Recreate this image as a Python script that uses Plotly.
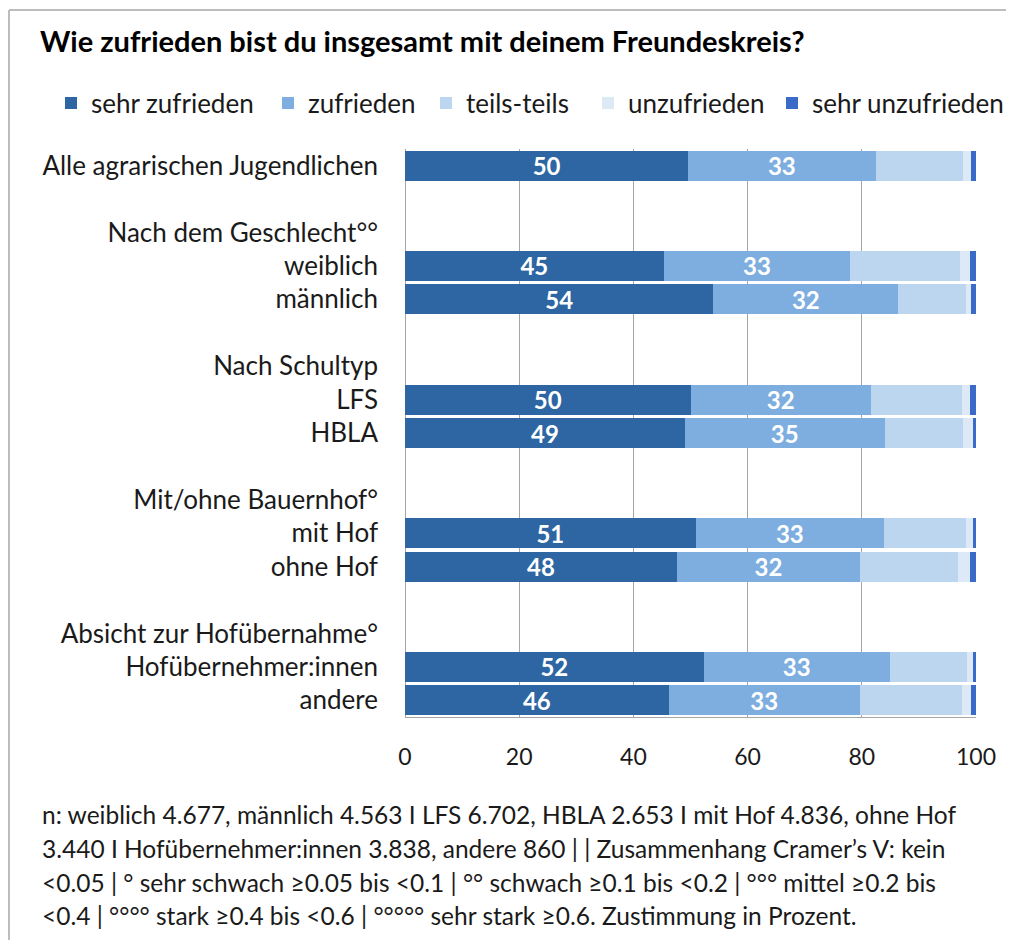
import plotly.graph_objects as go

# ---------------- data ----------------
row_labels = [
    "Alle agrarischen Jugendlichen", "",
    "Nach dem Geschlecht°°", "weiblich", "männlich", "",
    "Nach Schultyp", "LFS", "HBLA", "",
    "Mit/ohne Bauernhof°", "mit Hof", "ohne Hof", "",
    "Absicht zur Hofübernahme°", "Hofübernehmer:innen", "andere",
]
series_names = ["sehr zufrieden", "zufrieden", "teils-teils", "unzufrieden", "sehr unzufrieden"]

sehr_zufrieden   = [49.6, None, None, 45.3, 54.0, None, None, 50.0, 49.0, None, None, 50.9, 47.6, None, None, 52.3, 46.2]
zufrieden        = [32.8, None, None, 32.7, 32.4, None, None, 31.6, 35.0, None, None, 33.0, 32.1, None, None, 32.6, 33.4]
teils_teils      = [15.3, None, None, 19.2, 11.9, None, None, 16.0, 13.8, None, None, 14.3, 17.1, None, None, 13.6, 18.0]
unzufrieden      = [1.4,  None, None, 1.8,  0.9,  None, None, 1.4,  1.6,  None, None, 1.3,  2.1,  None, None, 1.0,  1.5]
sehr_unzufrieden = [0.9,  None, None, 1.0,  0.8,  None, None, 1.0,  0.6,  None, None, 0.5,  1.1,  None, None, 0.5,  0.9]

x_ticks = [0, 20, 40, 60, 80, 100]

footnote_lines = [
    "n: weiblich 4.677, männlich 4.563 I LFS 6.702, HBLA 2.653 I mit Hof 4.836, ohne Hof",
    "3.440 I Hofübernehmer:innen 3.838, andere 860 | | Zusammenhang Cramer’s V: kein",
    "<0.05 | ° sehr schwach ≥0.05 bis <0.1 | °° schwach ≥0.1 bis <0.2 | °°° mittel ≥0.2 bis",
    "<0.4 | °°°° stark ≥0.4 bis <0.6 | °°°°° sehr stark ≥0.6. Zustimmung in Prozent.",
]
title_text = "Wie zufrieden bist du insgesamt mit deinem Freundeskreis?"

# ---------------- styling ----------------
colors = ["#2D66A2", "#7EAEDF", "#BDD6EF", "#DDE9F6", "#3A6BC8"]
FONT = "Lato"
OFF = 8                      # default page body margin
SW, SH = 1015, 948           # screen size
W, H = SW - 2 * OFF, SH - 2 * OFF    # figure size (avoid page overflow)
# plot area in screen pixels
PX0, PX1, PY0, PY1 = 405, 976, 149, 717
L, R, T, B = PX0 - OFF, W - (PX1 - OFF), PY0 - OFF, H - (PY1 - OFF)
PW, PH = PX1 - PX0, PY1 - PY0


def px(xs):
    return (xs - PX0) / PW


def py(ys):
    return (PY1 - ys) / PH


def cx(xs):
    return (xs - OFF) / W


def cy(ys):
    return 1 - (ys - OFF) / H


rows = list(range(len(row_labels)))
all_series = [sehr_zufrieden, zufrieden, teils_teils, unzufrieden, sehr_unzufrieden]
legend_ids = ["legend", "legend2", "legend3", "legend4", "legend5"]
legend_square_x = [67, 284, 442, 604, 788]

fig = go.Figure()
for i, (name, vals) in enumerate(zip(series_names, all_series)):
    show_text = i < 2
    fig.add_trace(go.Bar(
        y=rows, x=vals, name=name, orientation="h",
        marker=dict(color=colors[i], line=dict(width=0)),
        width=0.9,
        texttemplate="%{x:.0f}" if show_text else None,
        textposition="inside" if show_text else "none",
        insidetextanchor="middle", textangle=0, constraintext="none",
        textfont=dict(family=FONT, size=24, color="white", weight="bold"),
        hoverinfo="skip",
        legend=legend_ids[i],
    ))

layout_legends = {}
for i, lid in enumerate(legend_ids):
    layout_legends[lid] = dict(
        orientation="h", xref="container", yref="container",
        x=cx(legend_square_x[i] - 16), xanchor="left",
        y=cy(103), yanchor="middle",
        font=dict(family=FONT, size=26, color="#1a1a1a"),
        bgcolor="rgba(0,0,0,0)", borderwidth=0,
    )

fig.update_layout(
    barmode="stack",
    width=W, height=H,
    margin=dict(l=L, r=R, t=T, b=B, autoexpand=False),
    paper_bgcolor="white", plot_bgcolor="white",
    font=dict(family=FONT, color="#1a1a1a"),
    title=dict(text="<b>" + title_text + "</b>", xref="container", yref="container",
               x=cx(40), xanchor="left", y=cy(42), yanchor="middle",
               font=dict(family=FONT, size=29, color="#000000")),
    showlegend=True,
    **layout_legends,
)
fig.update_xaxes(range=[0, 100], tickvals=x_ticks, showgrid=True, gridcolor="#A6A6A6", gridwidth=1,
                 zeroline=True, zerolinecolor="#A6A6A6", zerolinewidth=1,
                 showline=True, linecolor="#A6A6A6", linewidth=1, ticks="",
                 ticklabelstandoff=19,
                 tickfont=dict(family=FONT, size=23, color="#1a1a1a"))
fig.update_yaxes(range=[16.5, -0.5], tickvals=rows, ticktext=row_labels, showgrid=False,
                 zeroline=False, showline=False, ticks="", ticklabelstandoff=26,
                 tickfont=dict(family=FONT, size=26, color="#1a1a1a"))

# footnote
for k, line in enumerate(footnote_lines):
    fig.add_annotation(text=line.replace("<", "&lt;"), xref="paper", yref="paper",
                       x=px(40), y=py(815 + k * 33.6), xanchor="left", yanchor="middle",
                       showarrow=False, align="left",
                       font=dict(family=FONT, size=24.5, color="#1a1a1a"))

# frame (top and left edges visible)
fig.add_shape(type="line", xref="paper", yref="paper", x0=px(9), x1=px(9), y0=py(10), y1=py(980),
              line=dict(color="#BDBDBD", width=2))
fig.add_shape(type="line", xref="paper", yref="paper", x0=px(9), x1=px(1006), y0=py(10), y1=py(10),
              line=dict(color="#BDBDBD", width=2))

fig.write_html("out.html")
